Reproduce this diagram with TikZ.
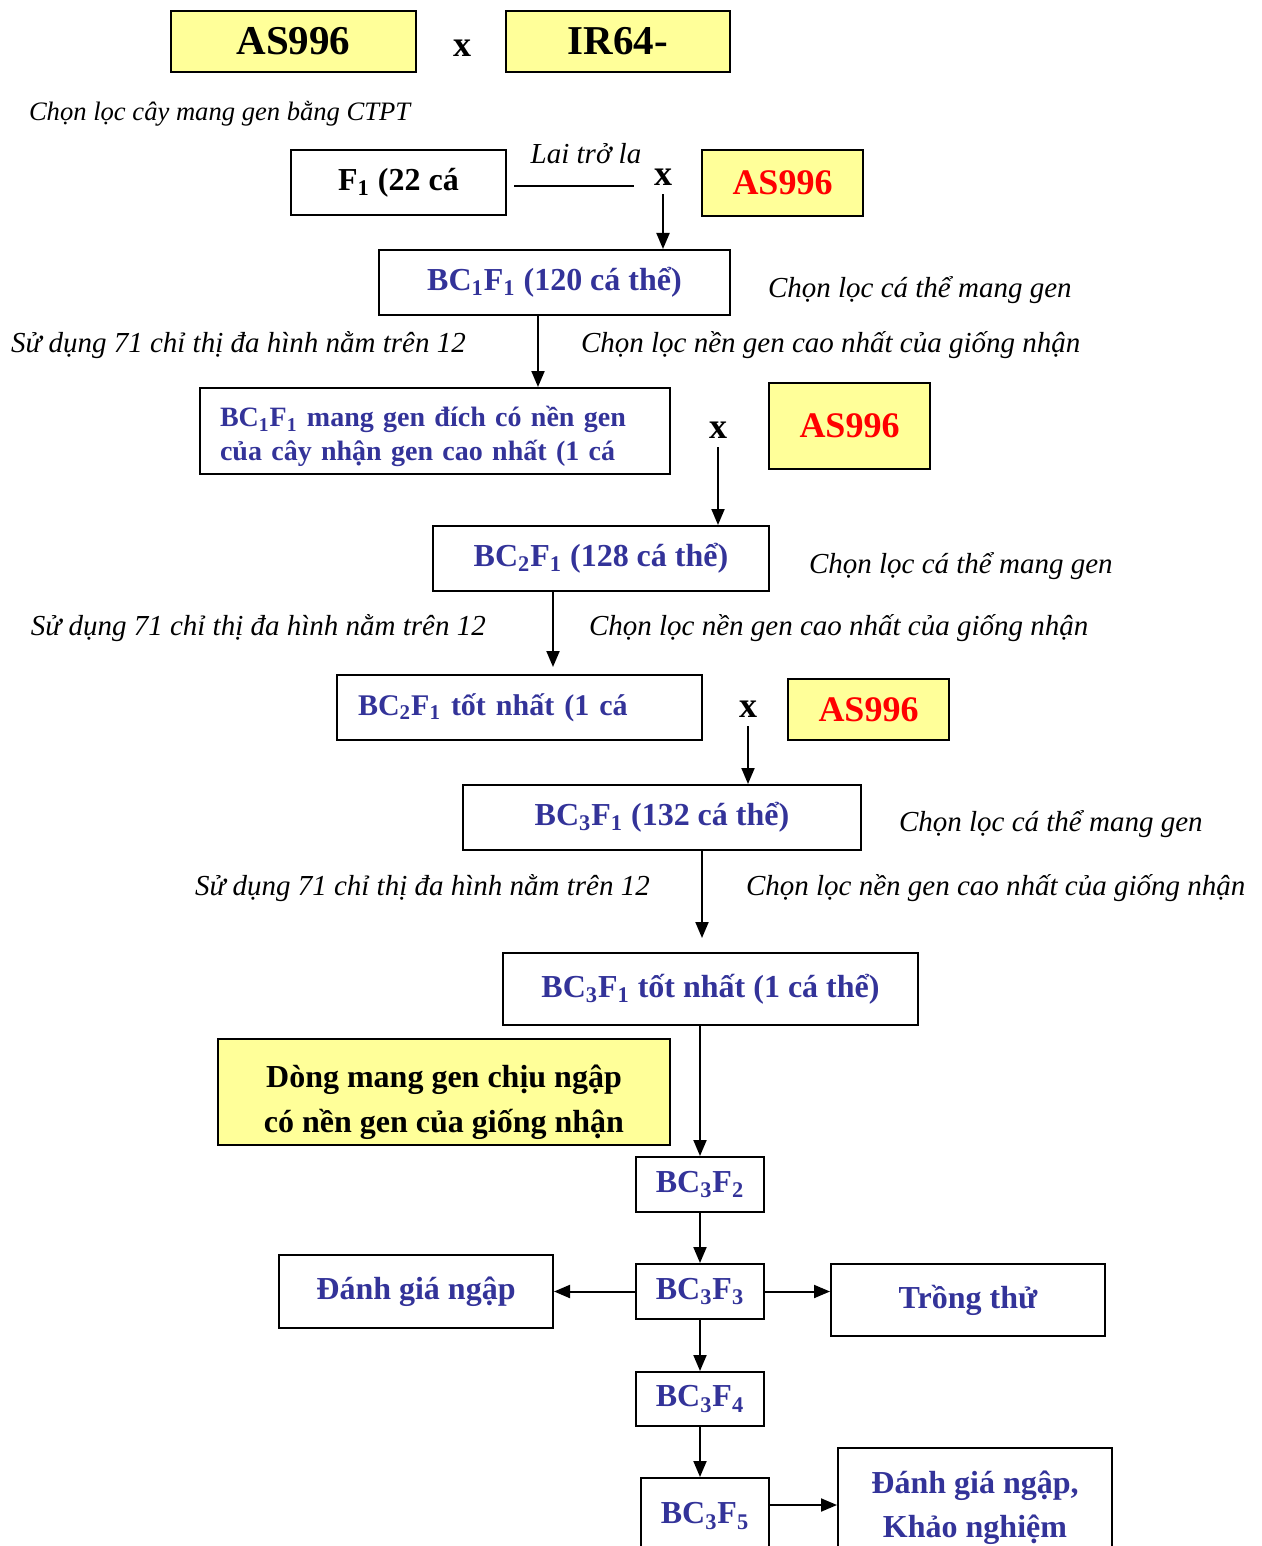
\documentclass[tikz,border=0pt]{standalone}
\usepackage{fontspec}
\setmainfont{Liberation Serif}
\usetikzlibrary{arrows.meta}
\definecolor{genblue}{RGB}{51,51,153}
\definecolor{paleyellow}{RGB}{255,255,153}

\begin{document}
\begin{tikzpicture}[x=0.5pt,y=-0.5pt,>={Triangle[length=8pt,width=6.5pt]},line width=1pt,
 box/.style={draw,line width=1pt,inner sep=0pt,font=\fontsize{16}{17}\selectfont\bfseries,text=genblue},
 parent/.style={box,fill=paleyellow,text=black,font=\fontsize{20.5}{22}\selectfont\bfseries},
 donor/.style={box,fill=paleyellow,text=red,font=\fontsize{18}{20}\selectfont\bfseries},
 note/.style={anchor=west,inner sep=0pt,font=\fontsize{14.5}{16}\selectfont\itshape},
 cross/.style={inner sep=0pt,font=\fontsize{18}{20}\selectfont\bfseries}]
\useasboundingbox (0,0) rectangle (1262,1546);
\clip (0,0) rectangle (1262,1546);
% parents
\node[parent,minimum width=122.5pt,minimum height=30.5pt] (p1) at (293.5,41.5) {AS996};
\node[cross] (x0) at (462,48) {x};
\node[parent,minimum width=112pt,minimum height=30.5pt] (p2) at (618,41.5) {IR64-};
\node[note,font=\fontsize{13.3}{15}\selectfont\itshape] (ctpt) at (28,114) {Chọn lọc cây mang gen bằng CTPT};
% F1 backcross
\node[box,text=black,minimum width=107.5pt,minimum height=32.5pt] (f1) at (398.5,182.5) {F\textsubscript{1} (22 cá};
\node[note,anchor=center] (back) at (586,154) {Lai trở la};
\node[cross] (x1) at (663,177) {x};
\node[donor,minimum width=80.5pt,minimum height=33pt] (d1) at (782.5,183) {AS996};
% BC1
\node[box,minimum width=175.5pt,minimum height=32.5pt] (bc1) at (554.5,282.5) {BC\textsubscript{1}F\textsubscript{1} (120 cá thể)};
\node[box,font=\fontsize{14}{17}\selectfont\bfseries,align=left,text width=215pt,inner xsep=10pt,minimum height=43pt] (bc1best) at (435,431)
 {\rule{0pt}{16pt}BC\textsubscript{1}F\textsubscript{1} mang gen đích có nền gen\\của cây nhận gen cao nhất (1 cá};
\node[cross] (x2) at (718,430) {x};
\node[donor,minimum width=80.5pt,minimum height=43pt] (d2) at (849.5,426) {AS996};
% BC2
\node[box,minimum width=168pt,minimum height=32.5pt] (bc2) at (601,558.5) {BC\textsubscript{2}F\textsubscript{1} (128 cá thể)};
\node[box,font=\fontsize{15}{17}\selectfont\bfseries,align=left,text width=161.5pt,inner xsep=10.5pt,minimum height=32.5pt] (bc2best) at (519.5,707.5)
 {BC\textsubscript{2}F\textsubscript{1} tốt nhất (1 cá};
\node[cross] (x3) at (748,709) {x};
\node[donor,minimum width=80.5pt,minimum height=30.5pt] (d3) at (868.5,709.5) {AS996};
% BC3
\node[box,minimum width=199pt,minimum height=32.5pt] (bc3) at (662,817.5) {BC\textsubscript{3}F\textsubscript{1} (132 cá thể)};
\node[box,minimum width=207.5pt,minimum height=36pt] (bc3best) at (710.5,989) {BC\textsubscript{3}F\textsubscript{1} tốt nhất (1 cá thể)};
\node[parent,font=\fontsize{16}{22.5}\selectfont\bfseries,align=center,minimum width=226pt,minimum height=53pt] (introg) at (444,1092)
 {\rule{0pt}{22pt}Dòng mang gen chịu ngập\\có nền gen của giống nhận};
% selfing
\foreach \n/\x/\y/\h in {2/700/1184.5/27.5,3/700/1291.5/27.5,4/700/1399/27,5/705/1516/38}
 \node[box,minimum width=64pt,minimum height=\h pt] (s\n) at (\x,\y) {BC\textsubscript{3}F\textsubscript{\n}};
\node[box,minimum width=137pt,minimum height=36.5pt] (flood) at (416,1291.5) {Đánh giá ngập};
\node[box,minimum width=137pt,minimum height=36pt] (trial) at (968,1300) {Trồng thử};
\node[box,align=center,font=\fontsize{16}{22}\selectfont\bfseries,minimum width=137pt,minimum height=60pt] (final) at (975,1508)
 {Đánh giá ngập,\\Khảo nghiệm};
% selection notes
\foreach \i/\ya/\xa/\yb/\xb/\xc in {1/290/767/345/10/580,2/566/808/628/30/588,3/824/898/888/194/745}{
 \node[note] (carrier\i) at (\xa,\ya) {Chọn lọc cá thể mang gen};
 \node[note] (markers\i) at (\xb,\yb) {Sử dụng 71 chỉ thị đa hình nằm trên 12};
 \node[note] (backgr\i) at (\xc,\yb) {Chọn lọc nền gen cao nhất của giống nhận};
}
% connectors
\draw[shorten <=3.5pt,shorten >=9.5pt] ([yshift=-1.75pt]f1.east) -- ([yshift=-1.75pt]f1.east -| x1.west);
\draw[->,shorten <=4pt] (x1.south) -- (x1.south |- bc1.north);
\draw[->] ([xshift=-8.25pt]bc1.south) -- ([xshift=-8.25pt]bc1.south |- bc1best.north);
\draw[->,shorten <=4pt] (x2.south) -- (x2.south |- bc2.north);
\draw[->,shorten >=3.5pt] ([xshift=-24pt]bc2.south) -- ([xshift=-24pt]bc2.south |- bc2best.north);
\draw[->,shorten <=4pt] (x3.south) -- (x3.south |- bc3.north);
\draw[->,shorten >=7pt] ([xshift=20pt]bc3.south) -- ([xshift=20pt]bc3.south |- bc3best.north);
\draw[->] (bc3best.south -| s2.north) -- (s2.north);
\foreach \a/\b in {2/3,3/4,4/5} \draw[->] (s\a.south) -- (s\a.south |- s\b.north);
\draw[->] (s3.west) -- (flood.east);
\draw[->] (s3.east) -- (s3.east -| trial.west);
\draw[->] ([yshift=5.5pt]s5.east) -- ([yshift=5.5pt]s5.east -| final.west);
\end{tikzpicture}
\end{document}
